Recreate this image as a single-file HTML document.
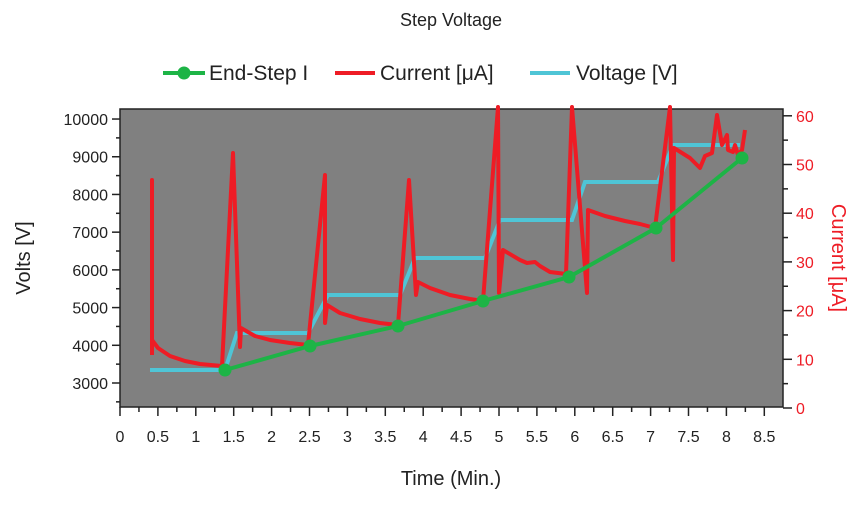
<!DOCTYPE html>
<html><head><meta charset="utf-8"><style>
body{margin:0;background:#fff;}
svg text{font-family:"Liberation Sans",sans-serif;}
</style></head><body>
<svg width="862" height="504" xmlns="http://www.w3.org/2000/svg">
<text x="451" y="26" font-size="18" text-anchor="middle" fill="#222">Step Voltage</text>
<g font-size="21" fill="#222">
<line x1="163" y1="73" x2="205" y2="73" stroke="#1db446" stroke-width="4"/><circle cx="184" cy="73" r="6.5" fill="#1db446"/>
<text x="209" y="80">End-Step I</text>
<line x1="335" y1="73" x2="375" y2="73" stroke="#ee1c25" stroke-width="4"/>
<text x="380" y="80">Current [μA]</text>
<line x1="530" y1="73" x2="570" y2="73" stroke="#4fc5d6" stroke-width="4"/>
<text x="576" y="80">Voltage [V]</text>
</g>
<rect x="120" y="109" width="663" height="298" fill="#808080"/>
<path d="M120 109H783V407H120Z" fill="none" stroke="#222" stroke-width="1.5"/>
<g stroke="#222" stroke-width="1.5" id="ticks"></g>
<g font-size="16" fill="#222" id="labs"></g>
<text transform="translate(30,258) rotate(-90)" font-size="20" text-anchor="middle" fill="#222">Volts [V]</text>
<text transform="translate(832,258) rotate(90)" font-size="20" text-anchor="middle" fill="#ee1c25">Current [μA]</text>
<text x="451" y="485" font-size="20" text-anchor="middle" fill="#222">Time (Min.)</text>
<polyline fill="none" stroke="#4fc5d6" stroke-width="4" points="150,370 225,370 237,333 308,333 328,295 400,295 415,258 485,258 500,220 572,220 585,182 658,182 673,145 740,145"/>
<polyline fill="none" stroke="#ee1c25" stroke-width="4" stroke-linejoin="round" points="152,355 152,180 152,340 158,348 170,356 185,361 200,364 222,366 233,153 240,347 241,328 255,336 270,340 290,343 308,345 325,175 325,323 327,305 340,313 360,319 380,323 398,325 409,180 416,295 418,282 430,288 450,295 470,299 483,301 498,107 499,293 503,250 520,260 527,263 535,262 540,266 550,272 566,274 572,107 587,293 588,210 605,216 625,221 640,224 655,228 670,107 673,260 674,148 690,158 700,168 705,156 712,153 717,115 722,145 727,135 728,150 733,152 735,145 738,155 742,150 745,130"/>
<polyline fill="none" stroke="#1db446" stroke-width="4" points="225,370 310,346 398,326 483,301 569,277 656,228 742,158"/>
<g fill="#1db446"><circle cx="225" cy="370" r="6.5"/><circle cx="310" cy="346" r="6.5"/><circle cx="398" cy="326" r="6.5"/><circle cx="483" cy="301" r="6.5"/><circle cx="569" cy="277" r="6.5"/><circle cx="656" cy="228" r="6.5"/><circle cx="742" cy="158" r="6.5"/></g>
<script>
var t=document.getElementById('ticks'),l=document.getElementById('labs'),ns='http://www.w3.org/2000/svg';
function ln(a,b,c,d){var e=document.createElementNS(ns,'line');e.setAttribute('x1',a);e.setAttribute('y1',b);e.setAttribute('x2',c);e.setAttribute('y2',d);t.appendChild(e);}
function tx(x,y,s,anc,col){var e=document.createElementNS(ns,'text');e.setAttribute('x',x);e.setAttribute('y',y);e.setAttribute('text-anchor',anc);if(col)e.setAttribute('fill',col);e.textContent=s;l.appendChild(e);}
for(var v=2500;v<=10000;v+=500){var y=383-(v-3000)*0.03771;var maj=v%1000==0;ln(120,y,maj?112:116,y);if(maj)tx(108,y+6,v,'end');}
for(var c=0;c<=60;c+=5){var y=408-c*4.87;var maj=c%10==0;ln(783,y,maj?792:788,y);if(maj)tx(796,y+6,c,'start','#ee1c25');}
for(var k=0;k<=34;k++){var x=120+k*0.25*75.8;var maj=k%2==0;ln(x,407,x,maj?416:412);if(maj)tx(x,442,k/4,'middle');}
</script>
</svg>
</body></html>
